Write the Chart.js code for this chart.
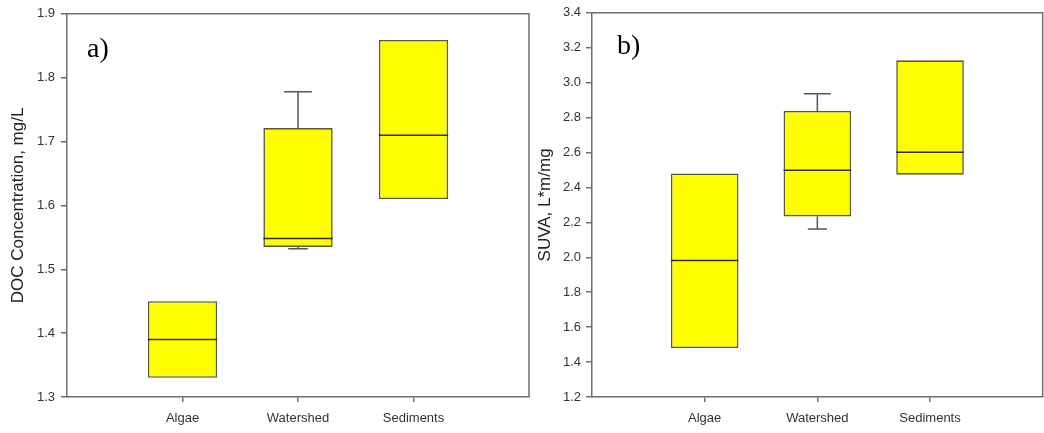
<!DOCTYPE html>
<html>
<head>
<meta charset="utf-8">
<script src="https://cdn.jsdelivr.net/npm/chart.js@4.4.1/dist/chart.umd.min.js"></script>
<style>
  html, body { margin: 0; padding: 0; background: #fff; }
  body { width: 1044px; height: 433px; position: relative; overflow: hidden; }
  .panel { position: absolute; top: 0; height: 433px; }
  #panelA { left: 0; width: 532px; }
  #panelB { left: 530px; width: 514px; }
</style>
</head>
<body>
<div class="panel" id="panelA"><canvas id="chartA"></canvas></div>
<div class="panel" id="panelB"><canvas id="chartB"></canvas></div>
<script>
// Sample groups shown on both panels
const categories = ['Algae', 'Watershed', 'Sediments'];

// a) DOC concentration (mg/L) box statistics per group
const docQ1 = [1.33, 1.535, 1.61];
const docMedian = [1.39, 1.548, 1.71];
const docQ3 = [1.45, 1.721, 1.859];
const docWhiskerLow = [null, 1.532, null];
const docWhiskerHigh = [null, 1.778, null];
const docTicks = [1.3, 1.4, 1.5, 1.6, 1.7, 1.8, 1.9];

// b) SUVA (L*m/mg) box statistics per group
const suvaQ1 = [1.48, 2.234, 2.473];
const suvaMedian = [1.982, 2.498, 2.602];
const suvaQ3 = [2.48, 2.838, 3.128];
const suvaWhiskerLow = [null, 2.162, null];
const suvaWhiskerHigh = [null, 2.936, null];
const suvaTicks = [1.2, 1.4, 1.6, 1.8, 2.0, 2.2, 2.4, 2.6, 2.8, 3.0, 3.2, 3.4];

// Styling constants (x-axis units: groups sit at 1, 2, 3 on a 0..4 axis)
const BOX_HALF = 0.3;
const CAP_HALF_HIGH = 0.12;
const CAP_HALF_LOW = 0.085;
const AXIS_COLOR = '#6e6e6e';
const TEXT_COLOR = '#333333';
const FONT = "'Liberation Sans', Arial, sans-serif";

function medianPoints(med) {
  const pts = [];
  med.forEach((m, i) => {
    const c = i + 1;
    pts.push({ x: c - BOX_HALF, y: m }, { x: c + BOX_HALF, y: m }, { x: c, y: null });
  });
  return pts;
}

function whiskerPoints(q1, q3, lo, hi) {
  const pts = [];
  categories.forEach((_, i) => {
    const c = i + 1;
    if (hi[i] !== null) {
      pts.push({ x: c, y: q3[i] }, { x: c, y: hi[i] }, { x: c, y: null });
      pts.push({ x: c - CAP_HALF_HIGH, y: hi[i] }, { x: c + CAP_HALF_HIGH, y: hi[i] }, { x: c, y: null });
    }
    if (lo[i] !== null) {
      pts.push({ x: c, y: q1[i] }, { x: c, y: lo[i] }, { x: c, y: null });
      pts.push({ x: c - CAP_HALF_LOW, y: lo[i] }, { x: c + CAP_HALF_LOW, y: lo[i] }, { x: c, y: null });
    }
  });
  return pts;
}

// Frame on the top and right of the plot area
const framePlugin = {
  id: 'frame',
  afterDraw(chart) {
    const { ctx, chartArea: a } = chart;
    ctx.save();
    ctx.strokeStyle = AXIS_COLOR;
    ctx.lineWidth = 1.5;
    ctx.beginPath();
    ctx.moveTo(a.left, a.top);
    ctx.lineTo(a.right, a.top);
    ctx.lineTo(a.right, a.bottom);
    ctx.stroke();
    ctx.restore();
  }
};

// Panel letter inside the plot area
const panelLabelPlugin = {
  id: 'panelLabel',
  afterDraw(chart, args, opts) {
    const { ctx, chartArea: a } = chart;
    ctx.save();
    ctx.fillStyle = '#000';
    ctx.font = "28px 'Liberation Serif', 'Times New Roman', serif";
    ctx.textBaseline = 'alphabetic';
    ctx.fillText(opts.text, a.left + opts.dx, a.top + opts.dy);
    ctx.restore();
  }
};

function makePanel(canvasId, cfg) {
  const ctx = document.getElementById(canvasId);
  return new Chart(ctx, {
    type: 'bar',
    data: {
      datasets: [
        {
          type: 'line',
          data: medianPoints(cfg.median),
          borderColor: '#2b2b1a',
          borderWidth: 1.5,
          pointRadius: 0,
          spanGaps: false,
          order: 1
        },
        {
          type: 'line',
          data: whiskerPoints(cfg.q1, cfg.q3, cfg.lo, cfg.hi),
          borderColor: '#555555',
          borderWidth: 1.5,
          pointRadius: 0,
          spanGaps: false,
          order: 1
        },
        {
          type: 'bar',
          data: categories.map((_, i) => ({ x: i + 1, y: [cfg.q1[i], cfg.q3[i]] })),
          backgroundColor: '#ffff00',
          borderColor: '#5a5a36',
          borderWidth: 1.6,
          borderSkipped: false,
          categoryPercentage: 1,
          barPercentage: BOX_HALF * 2,
          order: 2
        }
      ]
    },
    options: {
      responsive: true,
      maintainAspectRatio: false,
      animation: false,
      devicePixelRatio: 1,
      layout: { padding: cfg.padding },
      plugins: {
        legend: { display: false },
        tooltip: { enabled: false },
        panelLabel: cfg.label
      },
      scales: {
        x: {
          type: 'linear',
          min: 0,
          max: 4,
          offset: false,
          afterBuildTicks: (scale) => {
            scale.ticks = categories.map((_, i) => ({ value: i + 1 }));
          },
          afterFit: (scale) => { scale.height = 36; },
          ticks: {
            callback: (v) => categories[v - 1],
            color: TEXT_COLOR,
            font: { family: FONT, size: 13 },
            padding: 9,
            maxRotation: 0,
            autoSkip: false
          },
          grid: {
            offset: false,
            drawOnChartArea: false,
            drawTicks: true,
            tickLength: 5,
            color: AXIS_COLOR,
            lineWidth: 1.5
          },
          border: { display: true, color: AXIS_COLOR, width: 1.5 }
        },
        y: {
          type: 'linear',
          min: cfg.ticks[0],
          max: cfg.ticks[cfg.ticks.length - 1],
          afterBuildTicks: (scale) => {
            scale.ticks = cfg.ticks.map((v) => ({ value: v }));
          },
          afterFit: (scale) => { scale.width = cfg.yWidth; },
          ticks: {
            callback: (v) => v.toFixed(1),
            color: TEXT_COLOR,
            font: { family: FONT, size: 13 },
            padding: cfg.tickPad
          },
          grid: {
            drawOnChartArea: false,
            drawTicks: true,
            tickLength: 6,
            color: AXIS_COLOR,
            lineWidth: 1.5
          },
          border: { display: true, color: AXIS_COLOR, width: 1.5 },
          title: {
            display: true,
            text: cfg.title,
            color: '#222222',
            font: { family: FONT, size: 17 },
            padding: { top: cfg.titlePad, bottom: 0 }
          }
        }
      }
    },
    plugins: [framePlugin, panelLabelPlugin]
  });
}

makePanel('chartA', {
  q1: docQ1, median: docMedian, q3: docQ3, lo: docWhiskerLow, hi: docWhiskerHigh,
  ticks: docTicks,
  title: 'DOC Concentration, mg/L',
  yWidth: 67, tickPad: 6, titlePad: 8,
  padding: { top: 13, right: 3, left: 0, bottom: 0 },
  label: { text: 'a)', dx: 20, dy: 43 }
});

makePanel('chartB', {
  q1: suvaQ1, median: suvaMedian, q3: suvaQ3, lo: suvaWhiskerLow, hi: suvaWhiskerHigh,
  ticks: suvaTicks,
  title: 'SUVA, L*m/mg',
  yWidth: 62, tickPad: 5, titlePad: 5,
  padding: { top: 11, right: 1.3, left: 0, bottom: 0 },
  label: { text: 'b)', dx: 25, dy: 41 }
});
</script>
</body>
</html>
